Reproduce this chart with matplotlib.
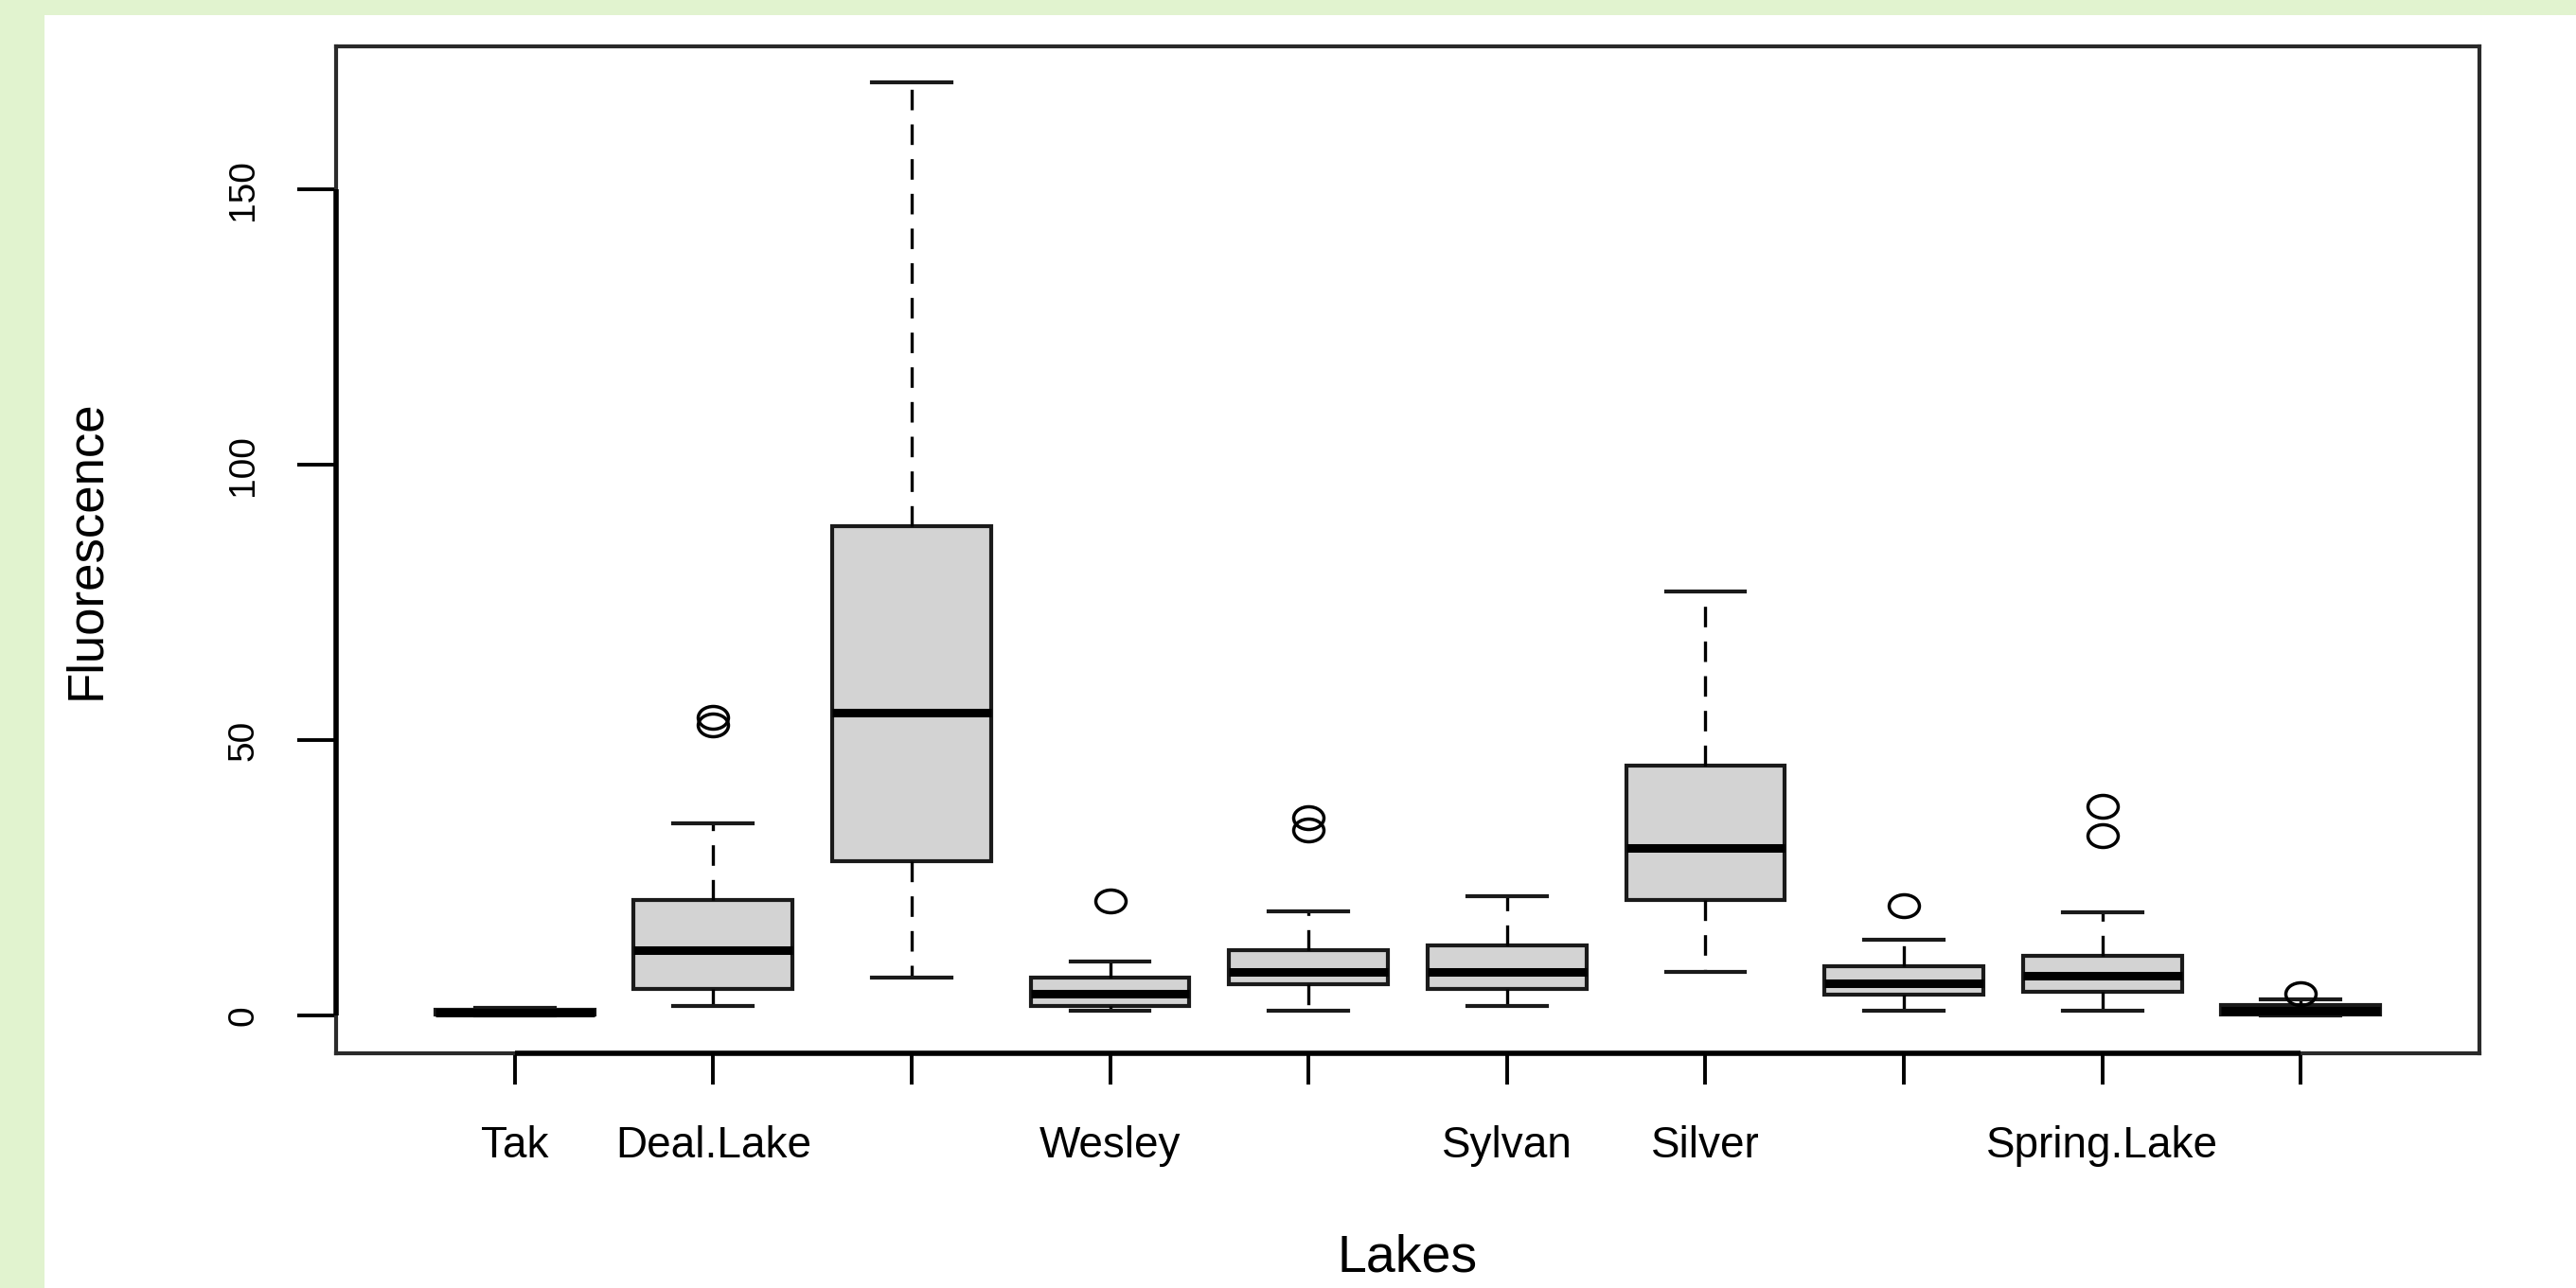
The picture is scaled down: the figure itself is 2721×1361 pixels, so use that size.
"""
Boxplot of fluorescence by lake (R-style base graphics look).
Writes out.png.
"""
import matplotlib
matplotlib.use("Agg")
import matplotlib.pyplot as plt
from matplotlib.patches import Rectangle
from matplotlib.path import Path
from matplotlib.transforms import Affine2D

# values
lakes = ["Tak", "Deal.Lake", "", "Wesley", "", "Sylvan", "Silver", "", "Spring.Lake", ""]
whis_lo = [0.1, 1.8, 6.9, 0.85, 0.85, 1.8, 7.9, 0.9, 0.9, 0.0]
q1 = [0.3, 4.8, 28.0, 1.8, 5.7, 4.8, 21.0, 3.8, 4.4, 0.2]
med = [0.6, 11.9, 55.1, 4.0, 7.9, 7.9, 30.5, 5.9, 7.3, 1.0]
q3 = [1.1, 21.1, 88.9, 6.9, 11.9, 12.8, 45.4, 9.0, 10.9, 2.0]
whis_hi = [1.5, 34.9, 169.4, 9.9, 18.9, 21.8, 77.0, 13.9, 18.8, 3.0]
outliers = [[], [52.8, 54.2], [], [20.9], [33.8, 35.9], [], [], [20.0], [32.7, 38.1], [4.0]]
yticks = [0, 50, 100, 150]

plt.rcParams["font.family"] = ["Liberation Sans", "DejaVu Sans"]

W, H = 2721, 1361
fig = plt.figure(figsize=(W / 100, H / 100), dpi=100, facecolor="#e1f3cf")
# white slide panel over the green background
fig.add_artist(Rectangle((47 / W, 0), 1, 1 - 16 / H, transform=fig.transFigure,
                         facecolor="white", edgecolor="none", zorder=0))

ax = fig.add_axes([355 / W, 1 - 1113 / H, (2619 - 355) / W, (1113 - 49) / H])
ax.set_facecolor("white")

stats = []
for i in range(len(lakes)):
    stats.append(dict(whislo=whis_lo[i], q1=q1[i], med=med[i], q3=q3[i],
                      whishi=whis_hi[i], fliers=outliers[i]))

pos = list(range(1, len(lakes) + 1))
# R's open circles come out a bit wide in the stretched image
ellipse = Path.unit_circle().transformed(Affine2D().scale(1.33, 1.0))
ax.bxp(stats, positions=pos, widths=0.8, patch_artist=True,
       boxprops=dict(facecolor="#d3d3d3", edgecolor="#1a1a1a", linewidth=3),
       medianprops=dict(color="black", linewidth=6.5, solid_capstyle="butt"),
       whiskerprops=dict(color="black", linewidth=2.4, linestyle=(0, (6.5, 4.5))),
       capprops=dict(color="#1a1a1a", linewidth=3),
       flierprops=dict(marker=ellipse, markersize=23, markerfacecolor="none",
                       markeredgecolor="black", markeredgewidth=2.5))

ax.set_xlim(0.1, 10.9)
ax.set_ylim(-6.8, 176)

for s in ax.spines.values():
    s.set_color("#2a2a2a")
    s.set_linewidth(3)
# R axis lines run only between the first and last tick
ax.plot([pos[0], pos[-1]], [-6.8, -6.8], color="black", lw=4, clip_on=False,
        solid_capstyle="butt", zorder=5)
ax.plot([0.1, 0.1], [yticks[0], yticks[-1]], color="black", lw=4, clip_on=False,
        solid_capstyle="butt", zorder=5)

ax.set_xticks(pos)
ax.set_xticklabels(lakes)
ax.set_yticks(yticks)
ax.set_yticklabels([str(t) for t in yticks], rotation=90, va="center")
ax.tick_params(axis="x", length=24, width=2.8, pad=31, labelsize=33)
ax.tick_params(axis="y", length=29.5, width=2.8, pad=28, labelsize=28)

ax.set_xlabel("Lakes", fontsize=40, va="top")
ax.xaxis.set_label_coords(0.5, (1113 - 1304) / (1113 - 49))
ax.set_ylabel("Fluorescence", fontsize=38)
ax.yaxis.label.set_va("center")
ax.yaxis.set_label_coords((91 - 355) / (2619 - 355), 0.5)

fig.savefig("out.png", dpi=100, facecolor=fig.get_facecolor())
